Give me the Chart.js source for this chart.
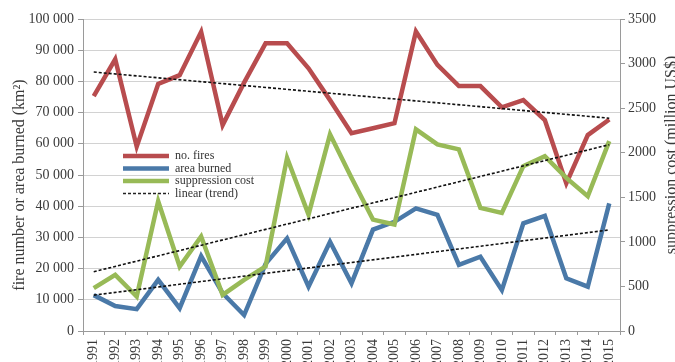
<!DOCTYPE html>
<html>
<head>
<meta charset="utf-8">
<script src="https://cdn.jsdelivr.net/npm/chart.js@4/dist/chart.umd.min.js"></script>
<style>
  html, body { margin: 0; padding: 0; background: #fff; }
  #wrap { width: 675px; height: 362px; }
</style>
</head>
<body>
<div id="wrap"><canvas id="myChart" width="675" height="362"></canvas></div>
<script>
const years = ["1991", "1992", "1993", "1994", "1995", "1996", "1997", "1998", "1999", "2000",
  "2001", "2002", "2003", "2004", "2005", "2006", "2007", "2008", "2009", "2010",
  "2011", "2012", "2013", "2014", "2015"];

// left axis: number of fires / area burned (km2)
const fires = [75300, 87100, 59100, 79200, 82000, 95900, 66000, 79600, 92200, 92200,
  84200, 74000, 63400, 65000, 66600, 96000, 85300, 78500, 78500, 71700,
  74000, 67600, 47300, 62800, 67800];
const areaBurned = [11500, 8000, 7000, 16400, 7300, 24000, 12100, 5100, 21500, 29700,
  14200, 28600, 15300, 32500, 35000, 39300, 37200, 21200, 23800, 13100,
  34500, 36900, 16900, 14200, 40900];

// right axis: suppression cost (million US$)
const suppressionCost = [480, 630, 386, 1455, 724, 1061, 405, 574, 724, 1943,
  1305, 2206, 1720, 1250, 1195, 2262, 2093, 2037, 1381, 1325,
  1849, 1962, 1718, 1511, 2130];

// trend lines, value at 1991 and at 2015
const firesTrend = [83000, 68200];
const areaTrend = [11500, 32400];
const costTrend = [665, 2090];

const seriesLabels = ["no. fires", "area burned", "suppression cost", "linear (trend)"];
const leftTicks = [0, 100000, 10000];
const rightTicks = [0, 3500, 500];

const FONT = "'Liberation Serif', 'DejaVu Serif', serif";
const RED = "#b84c4e";
const BLUE = "#4a79a8";
const GREEN = "#98ba57";

function trendData (ends) {
  let out = years.map(() => null);
  out[0] = ends[0];
  out[out.length - 1] = ends[1];
  return out;
}

function spaced (v) {
  return v.toString().replace(/\B(?=(\d{3})+(?!\d))/g, " ");
}

const axisTitles = {
  id: "axisTitles",
  afterDraw (chart) {
    let ctx = chart.ctx;
    ctx.save();
    ctx.fillStyle = "#3a3a3a";
    ctx.font = `16px ${FONT}`;
    ctx.textAlign = "center";
    ctx.textBaseline = "middle";

    ctx.save();
    ctx.translate(20, 185);
    ctx.rotate(-Math.PI / 2);
    ctx.fillText("fire number or area burned (km²)", 0, 0);
    ctx.restore();

    ctx.save();
    ctx.translate(672, 155);
    ctx.rotate(-Math.PI / 2);
    ctx.fillText("suppression cost (million US$)", 0, 0);
    ctx.restore();

    ctx.restore();
  }
};

const insideLegend = {
  id: "insideLegend",
  afterDraw (chart) {
    let ctx = chart.ctx;
    let colors = [RED, BLUE, GREEN, "#222"];
    let x0 = 123, x1 = 169, tx = 175, y0 = 156, dy = 12.5;
    ctx.save();
    ctx.font = `12px ${FONT}`;
    ctx.textBaseline = "middle";
    ctx.fillStyle = "#333";
    seriesLabels.forEach((label, i) => {
      let y = y0 + i * dy;
      ctx.beginPath();
      ctx.strokeStyle = colors[i];
      if (i < 3) {
        ctx.lineWidth = 4.5;
        ctx.setLineDash([]);
      } else {
        ctx.lineWidth = 1.6;
        ctx.setLineDash([3, 2]);
      }
      ctx.moveTo(x0, y);
      ctx.lineTo(x1, y);
      ctx.stroke();
      ctx.setLineDash([]);
      ctx.fillText(label, tx, y);
    });
    ctx.restore();
  }
};

function lineSet (label, data, color, axis, order) {
  return {
    label: label,
    data: data,
    yAxisID: axis,
    borderColor: color,
    borderWidth: 4.5,
    pointRadius: 0,
    tension: 0,
    fill: false,
    order: order
  };
}

function trendSet (data, axis) {
  return {
    label: "linear (trend)",
    data: trendData(data),
    yAxisID: axis,
    borderColor: "#111",
    borderWidth: 1.6,
    borderDash: [3, 2],
    pointRadius: 0,
    spanGaps: true,
    fill: false,
    order: 0
  };
}

let ctx = document.getElementById("myChart");
let chart = new Chart(ctx, {
  type: "line",
  data: {
    labels: years,
    datasets: [
      lineSet(seriesLabels[0], fires, RED, "y", 3),
      lineSet(seriesLabels[1], areaBurned, BLUE, "y", 2),
      lineSet(seriesLabels[2], suppressionCost, GREEN, "y2", 1),
      trendSet(firesTrend, "y"),
      trendSet(areaTrend, "y"),
      trendSet(costTrend, "y2")
    ]
  },
  options: {
    responsive: false,
    animation: false,
    layout: { padding: { top: 19, left: 0, right: 0, bottom: 0 } },
    plugins: {
      legend: { display: false },
      tooltip: { enabled: false }
    },
    scales: {
      x: {
        offset: true,
        afterFit: (s) => { s.height = 31; },
        grid: { offset: true, drawOnChartArea: false, tickLength: 4, color: "#9a9a9a" },
        border: { color: "#9a9a9a" },
        ticks: {
          autoSkip: false, minRotation: 90, maxRotation: 90, padding: 4,
          color: "#3a3a3a", font: { family: FONT, size: 14 }
        }
      },
      y: {
        position: "left",
        min: leftTicks[0], max: leftTicks[1],
        afterFit: (s) => { s.width = 83; },
        grid: { color: "#d2d2d2", tickLength: 5, tickColor: "#9a9a9a" },
        border: { color: "#9a9a9a" },
        ticks: {
          stepSize: leftTicks[2], padding: 4, color: "#3a3a3a",
          font: { family: FONT, size: 14 },
          callback: (v) => spaced(v)
        }
      },
      y2: {
        position: "right",
        min: rightTicks[0], max: rightTicks[1],
        afterFit: (s) => { s.width = 55; },
        grid: { drawOnChartArea: false, tickLength: 5, color: "#9a9a9a" },
        border: { color: "#9a9a9a" },
        ticks: {
          stepSize: rightTicks[2], padding: 3, color: "#3a3a3a",
          font: { family: FONT, size: 14 },
          callback: (v) => String(v)
        }
      }
    }
  },
  plugins: [axisTitles, insideLegend]
});
</script>
</body>
</html>
